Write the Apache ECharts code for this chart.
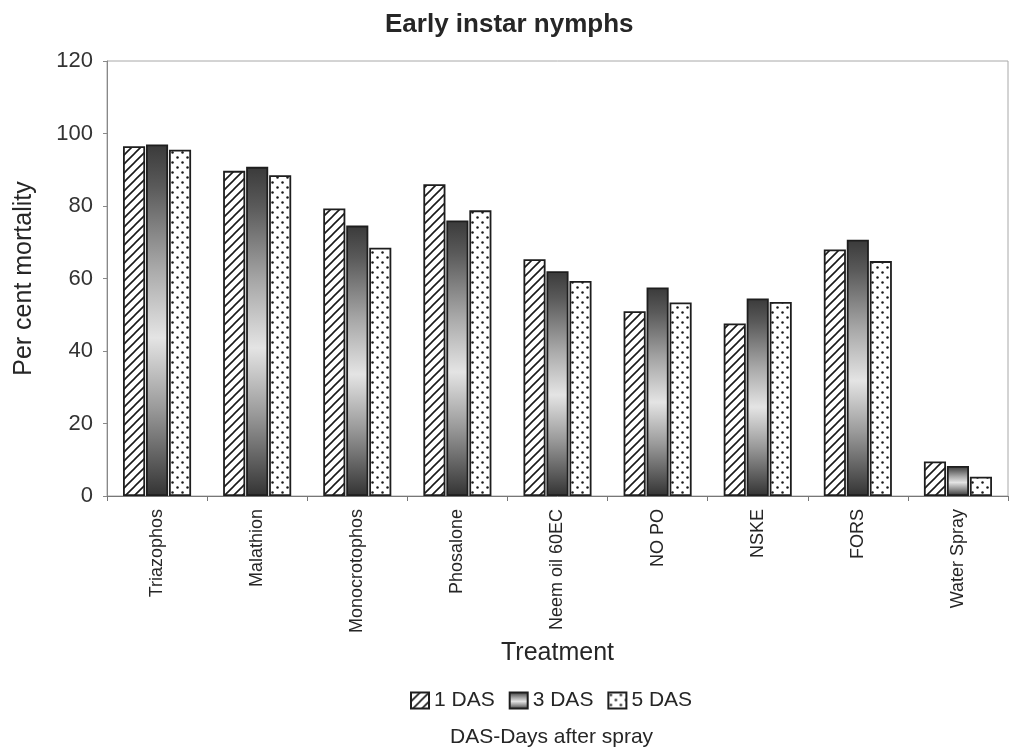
<!DOCTYPE html>
<html>
<head>
<meta charset="utf-8">
<script src="https://cdn.jsdelivr.net/npm/echarts@6/dist/echarts.min.js"></script>
<style>
  html, body { margin: 0; padding: 0; background: #fff; }
  #chart { width: 1010px; height: 753px; }
</style>
</head>
<body>
<div id="chart"></div>
<script>
// Treatments along the x axis
const treatments = ['Triazophos', 'Malathion', 'Monocrotophos', 'Phosalone', 'Neem oil 60EC', 'NO PO', 'NSKE', 'FORS', 'Water Spray'];

// Per cent mortality of early instar nymphs, by days after spray
const das1 = [96.5, 89.7, 79.3, 86.0, 65.3, 51.0, 47.6, 68.0, 9.5];
const das3 = [97.0, 90.8, 74.6, 76.0, 62.0, 57.5, 54.5, 70.7, 8.3];
const das5 = [95.5, 88.5, 68.5, 78.8, 59.3, 53.4, 53.5, 64.8, 5.3];

const seriesNames = ['1 DAS', '3 DAS', '5 DAS'];
const yTicks = [0, 20, 40, 60, 80, 100, 120];

// Diagonal hatch fill
function hatchPattern() {
  const s = 9;
  const c = document.createElement('canvas');
  c.width = s; c.height = s;
  const g = c.getContext('2d');
  g.fillStyle = '#ffffff';
  g.fillRect(0, 0, s, s);
  g.strokeStyle = '#1a1a1a';
  g.lineWidth = 1.6;
  g.beginPath();
  g.moveTo(-1, s + 1); g.lineTo(s + 1, -1);
  g.moveTo(-1, 1); g.lineTo(1, -1);
  g.moveTo(s - 1, s + 1); g.lineTo(s + 1, s - 1);
  g.stroke();
  return c;
}

// Staggered dot fill
function dotPattern() {
  const c = document.createElement('canvas');
  c.width = 10; c.height = 10;
  const g = c.getContext('2d');
  g.fillStyle = '#ffffff';
  g.fillRect(0, 0, 10, 10);
  g.fillStyle = '#1a1a1a';
  g.beginPath(); g.arc(2.5, 2.5, 1.25, 0, Math.PI * 2); g.fill();
  g.beginPath(); g.arc(7.5, 7.5, 1.25, 0, Math.PI * 2); g.fill();
  return c;
}

// Metallic shading: dark ends, light middle
const shaded = new echarts.graphic.LinearGradient(0, 0, 0, 1, [
  { offset: 0, color: '#3a3a3a' },
  { offset: 0.12, color: '#5a5a5a' },
  { offset: 0.35, color: '#a8a8a8' },
  { offset: 0.55, color: '#e4e4e4' },
  { offset: 0.75, color: '#9a9a9a' },
  { offset: 1, color: '#333333' }
]);

const fills = [
  { image: hatchPattern(), repeat: 'repeat' },
  shaded,
  { image: dotPattern(), repeat: 'repeat' }
];
const values = [das1, das3, das5];

const chart = echarts.init(document.getElementById('chart'), null, { renderer: 'canvas' });

const FONT = 'Liberation Sans, Arial, sans-serif';
const INK = '#262626';

chart.setOption({
  animation: false,
  backgroundColor: '#ffffff',
  title: [
    {
      text: 'Early instar nymphs',
      left: 385,
      top: 12,
      padding: 0,
      textStyle: { fontFamily: FONT, fontSize: 26, fontWeight: 'bold', color: INK }
    },
    {
      text: 'DAS-Days after spray',
      left: 450,
      top: 727,
      padding: 0,
      textStyle: { fontFamily: FONT, fontSize: 21, fontWeight: 'normal', color: INK }
    }
  ],
  legend: {
    data: seriesNames,
    left: 410,
    top: 690,
    padding: 0,
    itemWidth: 18,
    itemHeight: 16,
    itemGap: 14,
    icon: 'rect',
    textStyle: { fontFamily: FONT, fontSize: 21, color: INK }
  },
  grid: {
    left: 107,
    right: 2,
    top: 61,
    bottom: 257,
    show: true,
    borderColor: '#a8a8a8',
    borderWidth: 1
  },
  xAxis: {
    type: 'category',
    data: treatments,
    name: 'Treatment',
    nameLocation: 'middle',
    nameGap: 141,
    nameTextStyle: { fontFamily: FONT, fontSize: 25, color: INK },
    axisLine: { lineStyle: { color: '#777', width: 1 } },
    axisTick: { show: true, length: 5, lineStyle: { color: '#777' } },
    axisLabel: {
      rotate: 90,
      margin: 13,
      fontFamily: FONT,
      fontSize: 18,
      color: INK
    }
  },
  yAxis: {
    type: 'value',
    min: 0,
    max: 120,
    interval: 20,
    name: 'Per cent mortality',
    nameLocation: 'middle',
    nameGap: 70,
    nameTextStyle: { fontFamily: FONT, fontSize: 25, color: INK },
    axisLine: { show: true, lineStyle: { color: '#888', width: 1 } },
    axisTick: { show: true, length: 4, lineStyle: { color: '#888' } },
    splitLine: { show: false },
    axisLabel: {
      margin: 14,
      fontFamily: FONT,
      fontSize: 22,
      color: '#333',
      formatter: v => (yTicks.includes(v) ? String(v) : '')
    }
  },
  series: seriesNames.map((name, i) => ({
    name: name,
    type: 'bar',
    data: values[i],
    barGap: '4%',
    barCategoryGap: '32%',
    itemStyle: {
      color: fills[i],
      borderColor: '#1e1e1e',
      borderWidth: 1.8
    }
  }))
});
</script>
</body>
</html>
